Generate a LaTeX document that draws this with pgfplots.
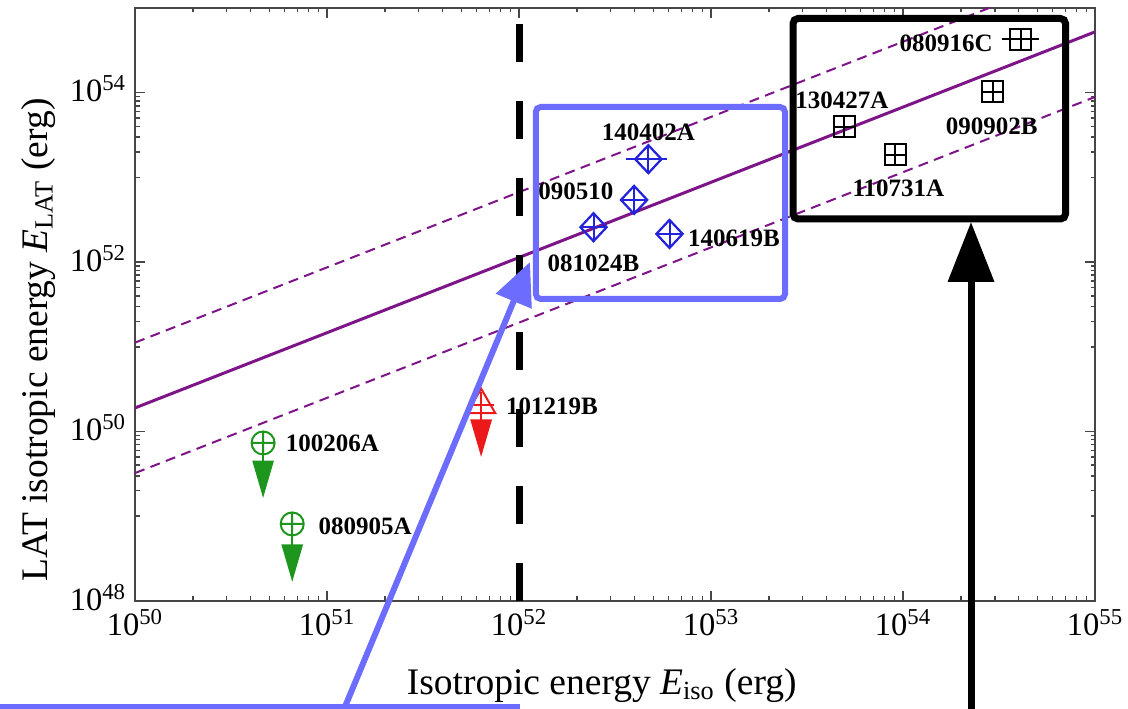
\documentclass[border=0pt]{standalone}
\usepackage{pgfplots}
\pgfplotsset{compat=1.18}
\usepackage{fontspec}
\setmainfont{Liberation Serif}
\usetikzlibrary{arrows.meta}
\definecolor{diamblue}{RGB}{35,35,220}
\definecolor{boxblue}{RGB}{108,108,255}
\definecolor{purp}{RGB}{125,20,135}
\definecolor{greenm}{RGB}{30,150,30}
\definecolor{redm}{RGB}{235,25,25}
\definecolor{axisgray}{RGB}{70,70,70}
\tikzset{lbl/.style={font=\fontsize{10}{12}\selectfont\bfseries, inner sep=0pt, anchor=center, text=black}}
\begin{document}
\begin{tikzpicture}
\begin{axis}[
  name=ax, at={(0,0)}, anchor=south west,
  xmode=log, ymode=log,
  scale only axis, width=384pt, height=237.2pt,
  xmin=1e50, xmax=1e55, ymin=1e48, ymax=1e55,
  xtick={1e50,1e51,1e52,1e53,1e54,1e55},
  xticklabels={10\textsuperscript{50},10\textsuperscript{51},10\textsuperscript{52},10\textsuperscript{53},10\textsuperscript{54},10\textsuperscript{55}},
  minor xtick={2e50,3e50,4e50,5e50,6e50,7e50,8e50,9e50,
               2e51,3e51,4e51,5e51,6e51,7e51,8e51,9e51,
               2e52,3e52,4e52,5e52,6e52,7e52,8e52,9e52,
               2e53,3e53,4e53,5e53,6e53,7e53,8e53,9e53,
               2e54,3e54,4e54,5e54,6e54,7e54,8e54,9e54},
  ytick={1e48,1e50,1e52,1e54},
  yticklabels={10\textsuperscript{48},10\textsuperscript{50},10\textsuperscript{52},10\textsuperscript{54}},
  minor ytick={1e49,2e49,3e49,4e49,5e49,6e49,7e49,8e49,9e49,
               1e51,2e51,3e51,4e51,5e51,6e51,7e51,8e51,9e51,
               1e53,2e53,3e53,4e53,5e53,6e53,7e53,8e53,9e53},
  tick label style={font=\fontsize{13}{15}\selectfont},
  yticklabel style={yshift=1.5pt},
  xlabel={Isotropic energy \textit{E}\textsubscript{iso} (erg)},
  ylabel={LAT isotropic energy \textit{E}\textsubscript{LAT} (erg)},
  every axis x label/.style={at={(axis description cs:0.486,-0.142)}, anchor=center, font=\fontsize{15}{18}\selectfont},
  every axis y label/.style={at={(axis description cs:-0.101,0.44)}, anchor=center, rotate=90, font=\fontsize{15}{18}\selectfont},
  axis line style={draw=axisgray, line width=0.8pt},
  major tick length=4pt, minor tick length=1.8pt,
  tick style={axisgray, line width=0.6pt},
]
% fit lines
\addplot[purp, line width=1.2pt] coordinates {(1e50,1.901e50) (1e55,5.224e54)};
\addplot[purp, line width=0.8pt, dash pattern=on 4pt off 2.6pt] coordinates {(1e50,1.122e51) (1e55,3.09e55)};
\addplot[purp, line width=0.8pt, dash pattern=on 4pt off 2.6pt] coordinates {(1e50,3.236e49) (1e55,8.91e53)};
% vertical threshold
\addplot[black, line width=2.8pt, dash pattern=on 15.2pt off 15.6pt] coordinates {(1e52,1e48) (1e52,1e55)};
% upper-limit arrows
\addplot[greenm, line width=0.8pt, -{Triangle[length=15pt,width=8.5pt]}] coordinates {(4.64e50,7.33e49) (4.64e50,1.64e49)};
\addplot[greenm, line width=0.8pt, -{Triangle[length=15pt,width=8.5pt]}] coordinates {(6.58e50,8.11e48) (6.58e50,1.68e48)};
\addplot[redm, line width=0.8pt, -{Triangle[length=15pt,width=8.5pt]}] coordinates {(6.34e51,2.06e50) (6.34e51,5.01e49)};
% green circles
\addplot[greenm, only marks, mark=oplus, mark size=4.6pt, line width=0.8pt] coordinates {(4.64e50,7.33e49) (6.58e50,8.11e48)};
% red triangle
\addplot[redm, only marks, mark=triangle, mark size=6.5pt, line width=0.8pt] coordinates {(6.34e51,2.06e50)};
\addplot[redm, only marks, mark=+, mark size=5pt, line width=0.8pt] coordinates {(6.34e51,2.06e50)};
% blue diamonds
\addplot[diamblue, line width=0.8pt] coordinates {(3.61e52,1.64e53) (5.92e52,1.64e53)};
\addplot[diamblue, only marks, mark=diamond, mark size=5.6pt, mark options={xscale=1.25}, line width=0.9pt] coordinates {
  (4.71e52,1.64e53) (3.97e52,5.42e52) (2.44e52,2.58e52) (6.07e52,2.15e52)};
\addplot[diamblue, only marks, mark=+, mark size=5.6pt, mark options={xscale=0.93}, line width=0.8pt] coordinates {
  (4.71e52,1.64e53) (3.97e52,5.42e52) (2.44e52,2.58e52) (6.07e52,2.15e52)};
% black squares
\addplot[black, line width=0.8pt] coordinates {(3.27e54,4.29e54) (5.07e54,4.29e54)};
\addplot[black, only marks, mark=square, mark size=4.2pt, line width=0.8pt] coordinates {
  (4.10e54,4.29e54) (2.93e54,1.03e54) (4.93e53,3.98e53) (9.08e53,1.85e53)};
\addplot[black, only marks, mark=+, mark size=4.2pt, line width=0.8pt] coordinates {
  (4.10e54,4.29e54) (2.93e54,1.03e54) (4.93e53,3.98e53) (9.08e53,1.85e53)};
% labels
\node[lbl, yshift=10.9pt] at (axis cs:4.71e52,1.64e53) {140402A};
\node[lbl, xshift=-23.3pt, yshift=3.3pt] at (axis cs:3.97e52,5.42e52) {090510};
\node[lbl, yshift=-14.3pt] at (axis cs:2.44e52,2.58e52) {081024B};
\node[lbl, xshift=25.8pt, yshift=-1.8pt] at (axis cs:6.07e52,2.15e52) {140619B};
\node[lbl, xshift=-29.9pt, yshift=-1.6pt] at (axis cs:4.10e54,4.29e54) {080916C};
\node[lbl, xshift=-0.9pt, yshift=10.7pt] at (axis cs:4.93e53,3.98e53) {130427A};
\node[lbl, xshift=-0.4pt, yshift=-14pt] at (axis cs:2.93e54,1.03e54) {090902B};
\node[lbl, xshift=1.3pt, yshift=-13.3pt] at (axis cs:9.08e53,1.85e53) {110731A};
\node[lbl, xshift=27.7pt] at (axis cs:4.64e50,7.33e49) {100206A};
\node[lbl, xshift=29.2pt, yshift=-1pt] at (axis cs:6.58e50,8.11e48) {080905A};
\node[lbl, xshift=28.3pt, yshift=-0.7pt] at (axis cs:6.34e51,2.06e50) {101219B};
\end{axis}
\begin{scope}[shift={(ax.south west)}]
\draw[boxblue, line width=2.4pt, rounded corners=2pt] (160.3pt,120.8pt) rectangle (260pt,197.6pt);
\draw[black, line width=2.8pt, rounded corners=2pt] (263.2pt,152.8pt) rectangle (372.2pt,233pt);
\draw[boxblue, line width=2.4pt, -{Triangle[length=17pt,width=15pt]}] (81.8pt,-47.6pt) -- (158pt,135.6pt);
\draw[black, line width=2.8pt, -{Triangle[length=24pt,width=18pt]}] (334.4pt,-50pt) -- (334.4pt,151.6pt);
\draw[boxblue, line width=2.4pt] (-60pt,-42.4pt) -- (154pt,-42.4pt);
\end{scope}
\pgfresetboundingbox
\useasboundingbox ([shift={(-54pt,-42.8pt)}]ax.south west) rectangle ([shift={(397.2pt,240.4pt)}]ax.south west);
\end{tikzpicture}
\end{document}
